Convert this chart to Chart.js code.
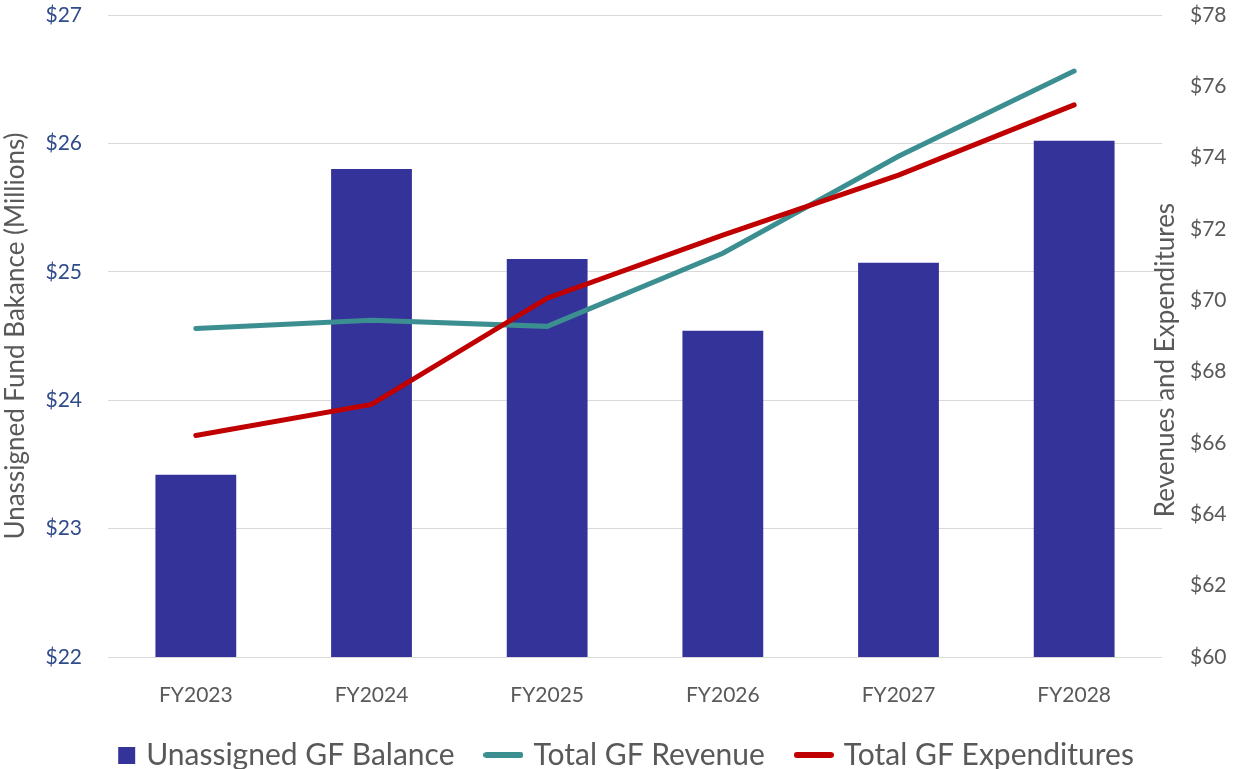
<!DOCTYPE html>
<html>
<head>
<meta charset="utf-8">
<script src="https://cdn.jsdelivr.net/npm/chart.js@4"></script>
<style>
  html, body { margin: 0; padding: 0; background: #fff; }
  #wrap { width: 1235px; height: 769px; }
</style>
</head>
<body>
<div id="wrap"><canvas id="chart"></canvas></div>
<script>
// values
const years = ['FY2023', 'FY2024', 'FY2025', 'FY2026', 'FY2027', 'FY2028'];
const balance = [23.42, 25.80, 25.10, 24.54, 25.07, 26.02];      // millions, left axis
const revenue = [69.21, 69.44, 69.27, 71.32, 74.04, 76.43];      // right axis
const expenditures = [66.21, 67.08, 70.06, 71.83, 73.51, 75.48]; // right axis

const FONT = 'Lato, "Open Sans", sans-serif';
const GRAY = '#595959';

// legend symbols: small square for the bars, short thick line for the lines
function legendSymbol(color, isLine) {
    const c = document.createElement('canvas');
    c.width = 40;
    c.height = 20;
    const g = c.getContext('2d');
    if (isLine) {
        g.strokeStyle = color;
        g.lineWidth = 6;
        g.lineCap = 'round';
        g.beginPath();
        g.moveTo(3, 10);
        g.lineTo(37, 10);
        g.stroke();
    } else {
        g.fillStyle = color;
        g.fillRect(22, 2, 17, 17);
    }
    return c;
}

// right axis title reads bottom-to-top and sits between plot and ticks
const rightTitle = {
    id: 'rightTitle',
    afterDraw(chart) {
        const ctx = chart.ctx;
        const area = chart.chartArea;
        ctx.save();
        ctx.translate(area.right + 4, 360);
        ctx.rotate(-Math.PI / 2);
        ctx.font = '26px ' + FONT;
        ctx.fillStyle = GRAY;
        ctx.textAlign = 'center';
        ctx.textBaseline = 'middle';
        ctx.fillText('Revenues and Expenditures', 0, 0);
        ctx.restore();
    }
};

new Chart(document.getElementById('chart'), {
    type: 'bar',
    data: {
        labels: years,
        datasets: [
            {
                type: 'line',
                label: 'Total GF Revenue',
                data: revenue,
                yAxisID: 'y1',
                borderColor: '#3C8F90',
                backgroundColor: '#3C8F90',
                borderWidth: 5,
                borderCapStyle: 'round',
                pointRadius: 0,
                tension: 0,
                order: 1
            },
            {
                type: 'line',
                label: 'Total GF Expenditures',
                data: expenditures,
                yAxisID: 'y1',
                borderColor: '#C00000',
                backgroundColor: '#C00000',
                borderWidth: 5,
                borderCapStyle: 'round',
                pointRadius: 0,
                tension: 0,
                order: 0
            },
            {
                label: 'Unassigned GF Balance',
                data: balance,
                yAxisID: 'y',
                backgroundColor: '#343399',
                barPercentage: 0.46,
                categoryPercentage: 1,
                order: 2
            }
        ]
    },
    options: {
        responsive: true,
        maintainAspectRatio: false,
        animation: false,
        layout: { padding: { top: 15, bottom: -11 } },
        scales: {
            x: {
                grid: { display: false },
                border: { display: false },
                ticks: { color: GRAY, font: { family: FONT, size: 21 }, padding: 18 },
                afterFit: s => { s.height = 49; }
            },
            y: {
                position: 'left',
                min: 22,
                max: 27,
                grid: { color: '#D9D9D9', tickLength: 26, tickColor: 'transparent' },
                border: { display: false },
                ticks: {
                    stepSize: 1,
                    color: '#2F4B8A',
                    padding: 0,
                    font: { family: FONT, size: 21 },
                    callback: v => '$' + v
                },
                title: {
                    display: true,
                    text: 'Unassigned Fund Bakance (Millions)',
                    color: GRAY,
                    font: { family: FONT, size: 26 },
                    padding: { top: 0 }
                },
                afterFit: s => { s.width = 108; }
            },
            y1: {
                position: 'right',
                min: 60,
                max: 78,
                grid: { drawOnChartArea: false, tickLength: 28, tickColor: 'transparent' },
                border: { display: false },
                ticks: {
                    stepSize: 2,
                    color: GRAY,
                    padding: 0,
                    font: { family: FONT, size: 21 },
                    callback: v => '$' + v
                },
                afterFit: s => { s.width = 73; }
            }
        },
        plugins: {
            legend: {
                position: 'bottom',
                reverse: true,
                labels: {
                    usePointStyle: true,
                    boxHeight: 10,
                    padding: 34,
                    color: GRAY,
                    font: { family: FONT, size: 30 },
                    generateLabels(chart) {
                        const items = Chart.defaults.plugins.legend.labels.generateLabels(chart);
                        items.forEach(it => {
                            const ds = chart.data.datasets[it.datasetIndex];
                            it.pointStyle = legendSymbol(ds.borderColor || ds.backgroundColor, ds.type === 'line');
                        });
                        return items;
                    }
                }
            },
            tooltip: { enabled: false }
        }
    },
    plugins: [rightTitle]
});
</script>
</body>
</html>
